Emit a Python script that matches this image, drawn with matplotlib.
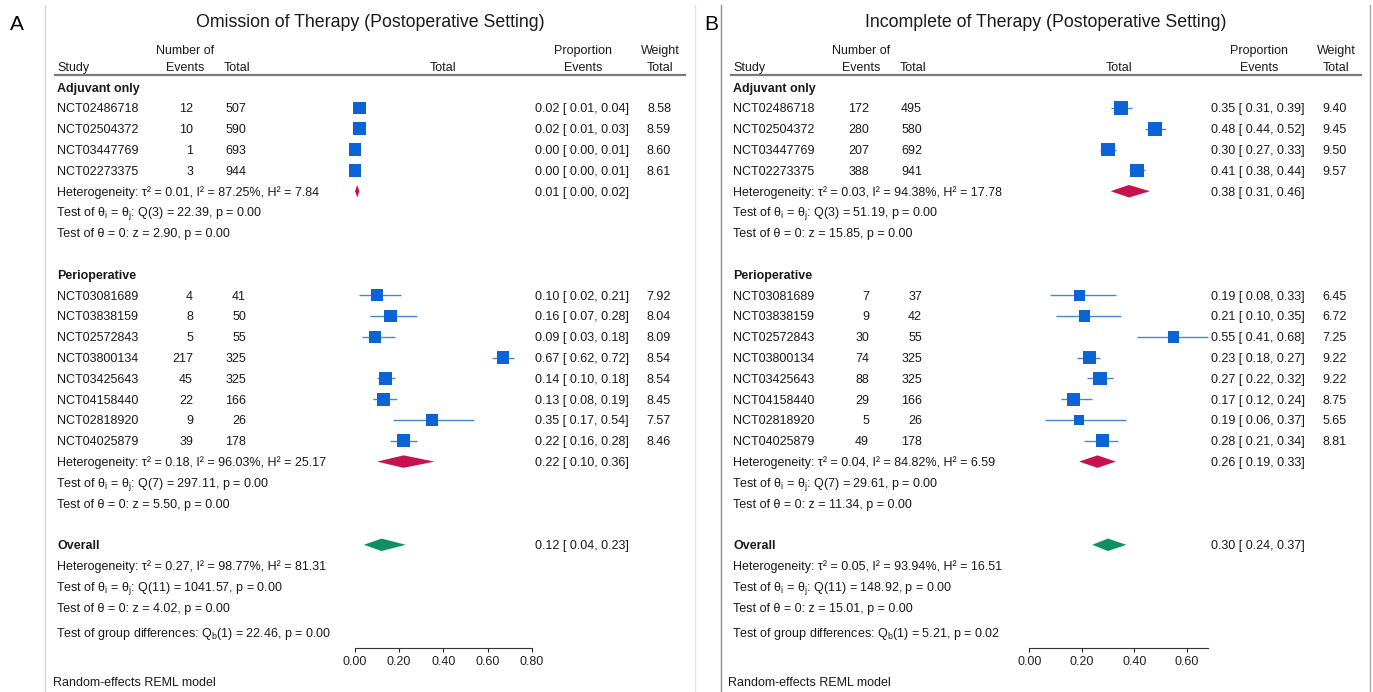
import numpy as np
import matplotlib.pyplot as plt
import matplotlib.transforms as mtransforms
from matplotlib.lines import Line2D
from matplotlib.patches import Polygon

plt.rcParams['font.family'] = ['Liberation Sans', 'DejaVu Sans']
plt.rcParams['mathtext.fontset'] = 'custom'
plt.rcParams['mathtext.rm'] = 'Liberation Sans'
plt.rcParams['mathtext.it'] = 'Liberation Sans:italic'
plt.rcParams['mathtext.bf'] = 'Liberation Sans:bold'

# ---- data ----
studies_adj = ['NCT02486718', 'NCT02504372', 'NCT03447769', 'NCT02273375']
studies_peri = ['NCT03081689', 'NCT03838159', 'NCT02572843', 'NCT03800134',
                'NCT03425643', 'NCT04158440', 'NCT02818920', 'NCT04025879']
groups = ['Adjuvant only', 'Perioperative']

# panel A: omission of therapy
a_events = [12, 10, 1, 3, 4, 8, 5, 217, 45, 22, 9, 39]
a_total = [507, 590, 693, 944, 41, 50, 55, 325, 325, 166, 26, 178]
a_prop = [0.02, 0.02, 0.00, 0.00, 0.10, 0.16, 0.09, 0.67, 0.14, 0.13, 0.35, 0.22]
a_lo = [0.01, 0.01, 0.00, 0.00, 0.02, 0.07, 0.03, 0.62, 0.10, 0.08, 0.17, 0.16]
a_hi = [0.04, 0.03, 0.01, 0.01, 0.21, 0.28, 0.18, 0.72, 0.18, 0.19, 0.54, 0.28]
a_weight = [8.58, 8.59, 8.60, 8.61, 7.92, 8.04, 8.09, 8.54, 8.54, 8.45, 7.57, 8.46]
# subgroup 1, subgroup 2, overall
a_pool = [0.01, 0.22, 0.12]
a_pool_lo = [0.00, 0.10, 0.04]
a_pool_hi = [0.02, 0.36, 0.23]
a_tau2 = [0.01, 0.18, 0.27]
a_i2 = [87.25, 96.03, 98.77]
a_h2 = [7.84, 25.17, 81.31]
a_q = [22.39, 297.11, 1041.57]
a_qdf = [3, 7, 11]
a_z = [2.90, 5.50, 4.02]
a_qb, a_qb_p = 22.46, 0.00
a_ticks = [0.0, 0.2, 0.4, 0.6, 0.8]

# panel B: incomplete therapy
b_events = [172, 280, 207, 388, 7, 9, 30, 74, 88, 29, 5, 49]
b_total = [495, 580, 692, 941, 37, 42, 55, 325, 325, 166, 26, 178]
b_prop = [0.35, 0.48, 0.30, 0.41, 0.19, 0.21, 0.55, 0.23, 0.27, 0.17, 0.19, 0.28]
b_lo = [0.31, 0.44, 0.27, 0.38, 0.08, 0.10, 0.41, 0.18, 0.22, 0.12, 0.06, 0.21]
b_hi = [0.39, 0.52, 0.33, 0.44, 0.33, 0.35, 0.68, 0.27, 0.32, 0.24, 0.37, 0.34]
b_weight = [9.40, 9.45, 9.50, 9.57, 6.45, 6.72, 7.25, 9.22, 9.22, 8.75, 5.65, 8.81]
b_pool = [0.38, 0.26, 0.30]
b_pool_lo = [0.31, 0.19, 0.24]
b_pool_hi = [0.46, 0.33, 0.37]
b_tau2 = [0.03, 0.04, 0.05]
b_i2 = [94.38, 84.82, 93.94]
b_h2 = [17.78, 6.59, 16.51]
b_q = [51.19, 29.61, 148.92]
b_qdf = [3, 7, 11]
b_z = [15.85, 11.34, 15.01]
b_qb, b_qb_p = 5.21, 0.02
b_ticks = [0.0, 0.2, 0.4, 0.6]

# ---- layout (pixels) ----
W, H = 1373, 692
FS = 9
Y0, DY = 108, 20.8          # pixel y of first study row, row pitch
AXIS_Y = 648                # pixel y of the x axis line
BASE = 0.21                 # baseline offset (rows) below row centre
BLUE = '#0b63d6'
CI_BLUE = '#4a85d0'
RED = '#c8124f'
GREEN = '#11905f'

fig = plt.figure(figsize=(W / 100, H / 100), dpi=100)


def draw_panel(off, zero_px, unit_px, title, events, total, prop, lo, hi, weight,
               pool, pool_lo, pool_hi, tau2, i2, h2, q, qdf, z, qb, qb_p, ticks, axis_max):
    x0, x1 = 45 + off, 695 + off
    ax = fig.add_axes([x0 / W, (H - AXIS_Y) / H, (x1 - x0) / W, AXIS_Y / H])
    ax.set_xlim((x0 - zero_px) / unit_px, (x1 - zero_px) / unit_px)
    ax.set_ylim((AXIS_Y - Y0) / DY, -Y0 / DY)
    ax.patch.set_alpha(0)
    for s in ['top', 'left', 'right']:
        ax.spines[s].set_visible(False)
    ax.spines['bottom'].set_bounds(0, axis_max)
    ax.spines['bottom'].set_color('#333333')
    ax.spines['bottom'].set_linewidth(0.8)
    ax.set_yticks([])
    ax.set_xticks(ticks)
    ax.set_xticklabels(['%.2f' % t for t in ticks], fontsize=FS)
    ax.tick_params(axis='x', direction='out', length=3, width=0.8, pad=3, colors='#222222')

    tr = mtransforms.blended_transform_factory(fig.transFigure, ax.transData)

    def t(px, row, s, **kw):
        kw.setdefault('fontsize', FS)
        ax.text((px + off) / W, row + BASE, s, transform=tr, color='#1a1a1a',
                va='baseline', **kw)

    # header
    t(370, -4.1, title, ha='center', fontsize=12.8)
    t(185, -2.8, 'Number of', ha='center')
    t(57, -2.0, 'Study')
    t(185, -2.0, 'Events', ha='center')
    t(224, -2.0, 'Total')
    t(443, -2.0, 'Total', ha='center')
    t(583, -2.8, 'Proportion', ha='center')
    t(583, -2.0, 'Events', ha='center')
    t(660, -2.8, 'Weight', ha='center')
    t(660, -2.0, 'Total', ha='center')
    ax.plot([(55 + off) / W, (685 + off) / W], [-1.6, -1.6], transform=tr,
            color='#7a7a7a', lw=1.6, clip_on=False)

    study_rows = list(range(0, 4)) + list(range(9, 17))
    names = studies_adj + studies_peri
    group_rows = [-1, 8]
    pool_rows = [4, 17, 21]

    for g, r in zip(groups, group_rows):
        t(57, r, g, fontweight='bold')
    for k, r in enumerate(study_rows):
        t(57, r, names[k])
        t(193, r, str(events[k]), ha='right')
        t(246, r, str(total[k]), ha='right')
        t(535, r, '%.2f [ %.2f, %.2f]' % (prop[k], lo[k], hi[k]))
        t(671, r, '%.2f' % weight[k], ha='right')

    ax.hlines(study_rows, lo, hi, color=CI_BLUE, lw=1.0, zorder=2)
    sizes = [(4.4 * np.sqrt(w) * 0.72) ** 2 for w in weight]
    ax.scatter(prop, study_rows, s=sizes, marker='s', color=BLUE, linewidths=0, zorder=3)

    for k, r in enumerate(pool_rows):
        col = GREEN if k == 2 else RED
        ax.add_patch(Polygon([(pool_lo[k], r), (pool[k], r - 0.3), (pool_hi[k], r),
                              (pool[k], r + 0.3)], closed=True, color=col, lw=0, zorder=3))
        t(535, r, '%.2f [ %.2f, %.2f]' % (pool[k], pool_lo[k], pool_hi[k]))

    het_rows = [4, 17, 22]
    for k, r in enumerate(het_rows):
        t(57, r, 'Heterogeneity: \u03c4\u00b2 = %.2f, I\u00b2 = %.2f%%, H\u00b2 = %.2f' % (tau2[k], i2[k], h2[k]))
        t(56, r + 1, 'Test of \u03b8$_\\mathrm{i}$ = \u03b8$_\\mathrm{j}$: Q(%d) = %.2f, p = 0.00' % (qdf[k], q[k]))
        t(57, r + 2, 'Test of \u03b8 = 0: z = %.2f, p = 0.00' % z[k])
    t(57, 21, 'Overall', fontweight='bold')
    t(56, 25.2, 'Test of group differences: Q$_\\mathrm{b}$(1) = %.2f, p = %.2f' % (qb, qb_p))
    t(53 if off == 0 else 52, 27.6, 'Random-effects REML model')
    return ax


draw_panel(0, 355, 220.9, 'Omission of Therapy (Postoperative Setting)',
           a_events, a_total, a_prop, a_lo, a_hi, a_weight,
           a_pool, a_pool_lo, a_pool_hi, a_tau2, a_i2, a_h2, a_q, a_qdf, a_z,
           a_qb, a_qb_p, a_ticks, 0.8)
draw_panel(676, 1029.3, 262.3, 'Incomplete of Therapy (Postoperative Setting)',
           b_events, b_total, b_prop, b_lo, b_hi, b_weight,
           b_pool, b_pool_lo, b_pool_hi, b_tau2, b_i2, b_h2, b_q, b_qdf, b_z,
           b_qb, b_qb_p, b_ticks, max(b_hi))

# panel frames
for xp, col in [(45, '#d9d9d9'), (695, '#e6e6e6'), (721, '#8f8f8f'), (1370, '#a8a8a8')]:
    fig.add_artist(Line2D([xp / W, xp / W], [0, 1 - 5 / H], transform=fig.transFigure,
                          color=col, lw=1.0))

fig.text(17 / W, 1 - 24 / H, 'A', fontsize=15, ha='center', va='center')
fig.text(711 / W, 1 - 24 / H, 'B', fontsize=15, ha='center', va='center')

fig.savefig('out.png', dpi=100)
